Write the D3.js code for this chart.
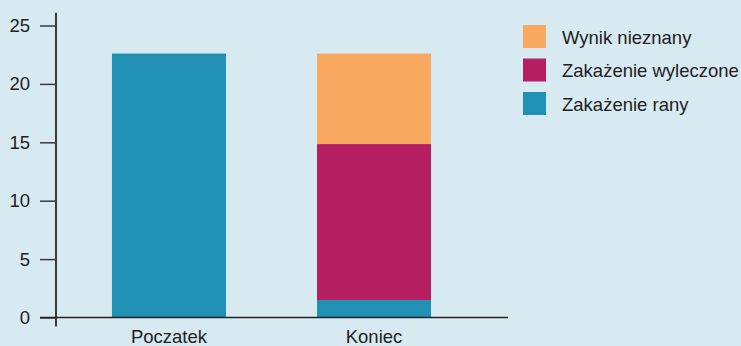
<!DOCTYPE html>
<html><head><meta charset="utf-8">
<script src="https://cdn.jsdelivr.net/npm/d3@7"></script>
<style>
html,body{margin:0;padding:0;background:#d7e9f1;}
svg{display:block;font-family:"Liberation Sans",Arial,Helvetica,sans-serif;}
</style></head>
<body>
<svg id="c" width="741" height="346"></svg>
<script>
const categories = ["Poczatek", "Koniec"];
const seriesNames = ["Zakażenie rany", "Zakażenie wyleczone", "Wynik nieznany"];
const zakazenieRany = [22.6, 1.5];
const zakazenieWyleczone = [0, 13.35];
const wynikNieznany = [0, 7.75];
const yTicks = [0, 5, 10, 15, 20, 25];
const colors = ["#2190b5", "#b51f62", "#f9a85f"];

const svg = d3.select("#c");
const y = d3.scaleLinear().domain([0, 25]).range([317.5, 25.5]);
const x = d3.scaleBand().domain(categories).range([56, 487]).paddingInner(0.444).paddingOuter(0.273);

const rows = categories.map((c, i) => ({cat: c, "Zakażenie rany": zakazenieRany[i], "Zakażenie wyleczone": zakazenieWyleczone[i], "Wynik nieznany": wynikNieznany[i]}));
const stack = d3.stack().keys(seriesNames)(rows);

svg.append("g").selectAll("g").data(stack).join("g")
  .attr("fill", (d, i) => colors[i])
  .selectAll("rect").data(d => d).join("rect")
  .attr("x", d => x(d.data.cat))
  .attr("width", x.bandwidth())
  .attr("y", d => y(d[1]))
  .attr("height", d => y(d[0]) - y(d[1]));

// y axis
const yAxis = svg.append("g").attr("transform", "translate(56,0)")
  .call(d3.axisLeft(y).tickValues(yTicks).tickSize(16).tickSizeOuter(0).tickPadding(10));
yAxis.select(".domain").remove();
yAxis.selectAll(".tick line").attr("stroke", "#3a3a3a").attr("stroke-width", 1.5);
yAxis.selectAll(".tick text").attr("font-size", "18.5px").attr("fill", "#222").attr("font-family", "Liberation Sans, Arial, sans-serif");
svg.append("line").attr("x1", 56).attr("x2", 56).attr("y1", y(26.1)).attr("y2", y(0) + 9)
  .attr("stroke", "#3a3a3a").attr("stroke-width", 2);

// x baseline
svg.append("line").attr("x1", 40).attr("x2", 508).attr("y1", y(0)).attr("y2", y(0))
  .attr("stroke", "#222").attr("stroke-width", 1.5);

// x labels
svg.append("g").selectAll("text").data(categories).join("text")
  .attr("x", d => x(d) + x.bandwidth() / 2)
  .attr("y", 343)
  .attr("text-anchor", "middle")
  .attr("font-size", "18.5px").attr("fill", "#222")
  .text(d => d);

// legend
const legendOrder = [2, 1, 0];
const lg = svg.append("g").selectAll("g").data(legendOrder).join("g")
  .attr("transform", (d, i) => `translate(523,${25 + i * 33.5})`);
lg.append("rect").attr("width", 23).attr("height", 23).attr("fill", d => colors[d]);
lg.append("text").attr("x", 39).attr("y", 18.5).attr("font-size", "18.5px").attr("fill", "#222")
  .text(d => seriesNames[d]);
</script>
</body></html>
